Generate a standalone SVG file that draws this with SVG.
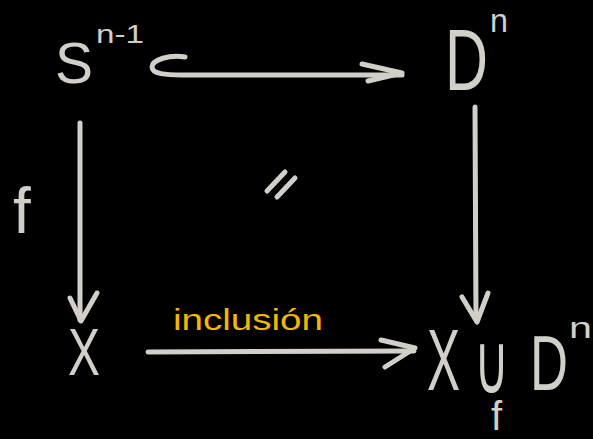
<svg xmlns="http://www.w3.org/2000/svg" width="593" height="439" viewBox="0 0 593 439">
<style>
.t{font-family:"Liberation Sans","DejaVu Sans",sans-serif;fill:#d2cfc9}
.c{font-family:"DejaVu Sans",sans-serif;fill:#d2cfc9}
.y{font-family:"Liberation Sans","DejaVu Sans",sans-serif;fill:#f2b705}
.s{fill:none;stroke:#d2cfc9;stroke-width:5;stroke-linecap:round;stroke-linejoin:round}
</style>
<rect width="593" height="439" fill="#000"/>
<g id="S">
<text class="t" x="55" y="83" font-size="57">S</text>
<text class="t" x="96" y="43" font-size="25" textLength="48" lengthAdjust="spacingAndGlyphs">n-1</text>
</g>
<g id="D">
<text class="t" x="445" y="90" font-size="88" textLength="43" lengthAdjust="spacingAndGlyphs">D</text>
<text class="t" x="490" y="32" font-size="34" textLength="18" lengthAdjust="spacingAndGlyphs">n</text>
</g>
<g id="X">
<text class="t" x="68" y="375" font-size="67" textLength="32" lengthAdjust="spacingAndGlyphs">X</text>
</g>
<g id="XD">
<text class="t" x="427" y="390" font-size="88" textLength="33" lengthAdjust="spacingAndGlyphs">X</text>
<text class="c" x="474" y="393" font-size="84" textLength="35" lengthAdjust="spacingAndGlyphs">∪</text>
<text class="t" x="491" y="430" font-size="40">f</text>
<text class="t" x="530" y="390" font-size="77" textLength="38" lengthAdjust="spacingAndGlyphs">D</text>
<text class="t" x="569" y="338" font-size="29" textLength="23" lengthAdjust="spacingAndGlyphs">n</text>
</g>
<g id="labels">
<text class="t" x="13" y="233" font-size="64">f</text>
<text class="y" x="173" y="330" font-size="29" textLength="150" lengthAdjust="spacingAndGlyphs">inclusión</text>
</g>
<g id="connectors" class="s">
<path class="s" d="M185 57 C170 54,152 60,152 67 C152 74,166 75,182 75 L402 75"/>
<path class="s" d="M362 64 L402 73 L368 81"/>
<path class="s" d="M80 123 L80 320"/>
<path class="s" d="M70 298 L81 321 L97 293"/>
<path class="s" d="M475 107 L476 320"/>
<path class="s" d="M462 297 L477 322 L488 293"/>
<path class="s" d="M148 352 L414 351"/>
<path class="s" d="M381 340 L415 348 L385 367"/>
<path class="s" d="M267 191 L285 172 M277 197 L295 178"/>
</g>
</svg>
